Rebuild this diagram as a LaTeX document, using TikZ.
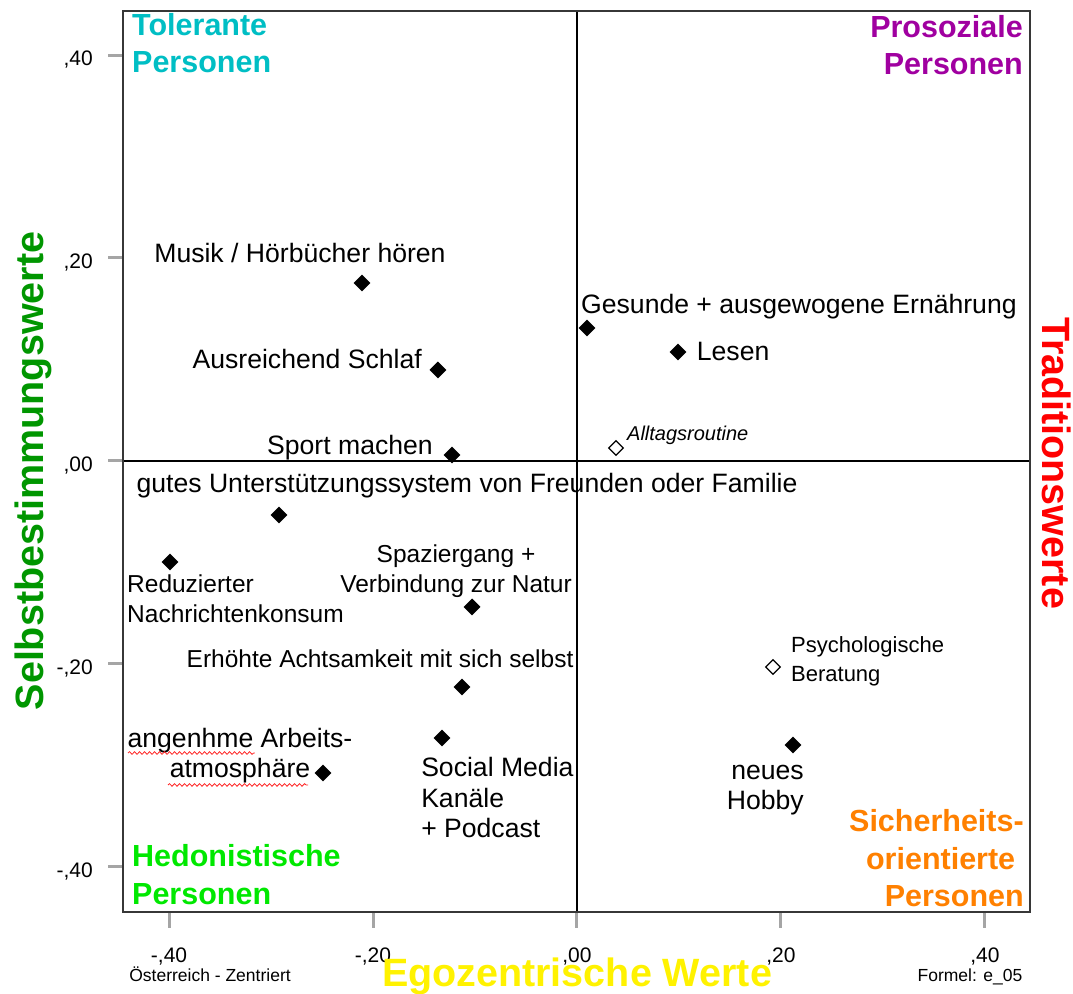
\documentclass[tikz,border=0pt]{standalone}
\usepackage{fontspec}
\setmainfont{Liberation Sans}
\usetikzlibrary{positioning, shapes.geometric, decorations.pathmorphing}
\definecolor{tolcyan}{RGB}{0,190,196}
\definecolor{prospurple}{RGB}{160,0,160}
\definecolor{hedgreen}{RGB}{0,232,0}
\definecolor{sichorange}{RGB}{255,128,0}
\definecolor{selbstgreen}{RGB}{0,150,0}
\definecolor{tickgray}{RGB}{165,165,165}
\definecolor{framegray}{RGB}{55,55,55}
\tikzset{
  mpoint/.style={diamond, fill=black, inner sep=0pt, minimum size=17pt},
  mpointopen/.style={diamond, draw=black, fill=white, line width=1.2pt, inner sep=0pt, minimum size=15pt},
  lbl/.style={inner sep=0pt, font=\fontsize{26.6}{30.5}\selectfont},
  mlbl/.style={inner sep=0pt, font=\fontsize{24.5}{30}\selectfont},
  slbl/.style={inner sep=0pt, font=\fontsize{22}{29}\selectfont},
  quad/.style={inner sep=0pt, font=\bfseries\fontsize{30.5}{37.5}\selectfont},
  axtitle/.style={inner sep=0pt, font=\bfseries\fontsize{39.5}{44}\selectfont},
  ticklbl/.style={inner sep=0pt, font=\fontsize{21}{24}\selectfont},
  note/.style={inner sep=0pt, font=\fontsize{17.5}{20}\selectfont},
  squiggle/.style={red!85, line width=0.8pt, decorate, decoration={snake, amplitude=1.3pt, segment length=5pt}},
}

\begin{document}
\begin{tikzpicture}[x=1020pt, y=1015pt]
  \useasboundingbox (-0.5657,-0.5251) rectangle (0.4863,0.4542);

  % ticks and tick labels
  \foreach \v/\t in {-0.4/{-,40}, -0.2/{-,20}, 0/{,00}, 0.2/{,20}, 0.4/{,40}} {
    \draw[tickgray, line width=3pt] (-0.445,\v) -- (-0.4597,\v);
    \draw[tickgray, line width=3pt] (\v,-0.444) -- (\v,-0.4598);
    \node[ticklbl, anchor=base east] at (-0.4745,\v-0.0099) {\t};
    \node[ticklbl, anchor=base] at (\v,-0.4946) {\t};
  }

  \draw[black, line width=1.5pt] (0,-0.444) -- (0,0.443);
  \draw[black, line width=1.5pt] (-0.445,0) -- (0.444,0);
  \draw[framegray, line width=2pt] (-0.445,-0.444) rectangle (0.444,0.443);

  % points
  \node[mpoint] (musik) at (-0.2108,0.1754) {};
  \node[mpoint] (schlaf) at (-0.1363,0.0897) {};
  \node[mpoint] (sport) at (-0.1225,0.0059) {};
  \node[mpoint] (gesund) at (0.0098,0.1310) {};
  \node[mpoint] (lesen) at (0.0990,0.1074) {};
  \node[mpointopen] (alltag) at (0.0382,0.0128) {};
  \node[mpoint] (unterst) at (-0.2922,-0.0532) {};
  \node[mpoint] (nachr) at (-0.3990,-0.0995) {};
  \node[mpoint] (spazier) at (-0.1029,-0.1438) {};
  \node[mpoint] (achtsam) at (-0.1127,-0.2227) {};
  \node[mpoint] (social) at (-0.1324,-0.2729) {};
  \node[mpoint] (arbeit) at (-0.2490,-0.3074) {};
  \node[mpointopen] (psych) at (0.1922,-0.2030) {};
  \node[mpoint] (hobby) at (0.2118,-0.2798) {};

  % point labels (multi-line nodes sit on their last baseline)
  \node[lbl, anchor=base] (musiklbl) at (-0.2716,0.1951) {Musik / Hörbücher hören};
  \node[lbl, anchor=base east] (schlaflbl) at (-0.1520,0.0916) {Ausreichend Schlaf};
  \node[lbl, anchor=base east] (sportlbl) at (-0.1412,0.0059) {Sport machen};
  \node[lbl, anchor=base west] (gesundlbl) at (0.0039,0.1458) {Gesunde + ausgewogene Ernährung};
  \node[lbl, right=10pt of lesen] (lesenlbl) {Lesen};
  \node[inner sep=0pt, font=\itshape\fontsize{20}{24}\selectfont, anchor=base west] (alltaglbl) at (0.0490,0.0197) {Alltagsroutine};
  \node[lbl, anchor=base] (unterstlbl) at (-0.1078,-0.0315) {gutes Unterstützungssystem von Freunden oder Familie};
  \node[mlbl, align=left, anchor=base west] (nachrlbl) at (-0.4412,-0.1596) {Reduzierter\\Nachrichtenkonsum};
  \node[mlbl, align=center, anchor=base] (spazierlbl) at (-0.1186,-0.1291) {Spaziergang +\\Verbindung zur Natur};
  \node[mlbl, anchor=base] (achtsamlbl) at (-0.1931,-0.2039) {Erhöhte Achtsamkeit mit sich selbst};
  \node[lbl, align=left, anchor=base west] (sociallbl) at (-0.1529,-0.3714) {Social Media\\Kanäle\\+ Podcast};
  \node[lbl, align=center, anchor=base] (arbeitlbl) at (-0.3304,-0.3123) {angenhme Arbeits-\\atmosphäre};
  \node[slbl, align=left, anchor=base west] (psychlbl) at (0.2098,-0.2177) {Psychologische\\Beratung};
  \node[lbl, align=right, anchor=base east] (hobbylbl) at (0.2225,-0.3438) {neues\\Hobby};
  \draw[squiggle] (-0.4402,-0.2877) -- (-0.3157,-0.2877);
  \draw[squiggle] (-0.4010,-0.3192) -- (-0.2637,-0.3192);

  % quadrant labels
  \node[quad, tolcyan, align=left, anchor=base west] (tol) at (-0.4363,0.3823) {Tolerante\\Personen};
  \node[quad, prospurple, align=right, anchor=base east] (pros) at (0.4373,0.3803) {Prosoziale\\Personen};
  \node[quad, hedgreen, align=left, anchor=base west] (hedon) at (-0.4363,-0.4365) {Hedonistische\\Personen};
  \node[quad, sichorange, align=right, anchor=base east] (sicher) at (0.4382,-0.4394) {Sicherheits-\\orientierte\kern0.28em\\Personen};

  % axis titles
  \node[axtitle, selbstgreen, rotate=90, anchor=base] (selbst) at (-0.5235,-0.0099) {Selbstbestimmungswerte};
  \node[axtitle, red, rotate=-90, anchor=base] (trad) at (0.4559,-0.0020) {Traditionswerte};
  \node[axtitle, yellow, anchor=base] (ego) at (0,-0.5182) {Egozentrische Werte};
  \node[note, anchor=base] (land) at (-0.3598,-0.5133) {Österreich - Zentriert};
  \node[note, anchor=base] (formel) at (0.3853,-0.5133) {Formel: e\_05};
\end{tikzpicture}
\end{document}
